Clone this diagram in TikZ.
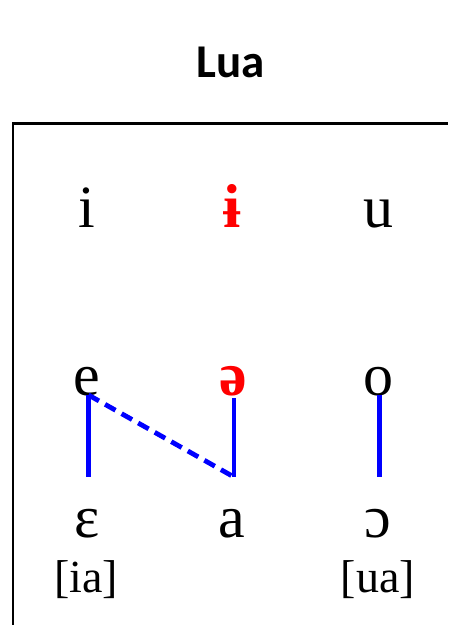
\documentclass[tikz,border=0pt]{standalone}
\usepackage{fontspec}
\setmainfont{Liberation Serif}
\newfontfamily\titlefont{Carlito}
\usetikzlibrary{positioning}
\definecolor{cblue}{RGB}{0,0,255}
\definecolor{cred}{RGB}{255,0,0}
\tikzset{
  every picture/.style={x=1pt, y=-1pt},
  vowel/.style={anchor=base, inner sep=0pt, font=\fontsize{60}{60}\selectfont},
  hivowel/.style={vowel, text=cred, font=\fontsize{62}{62}\selectfont\bfseries},
  gloss/.style={anchor=base, inner sep=0pt, font=\fontsize{46}{46}\selectfont},
  title/.style={anchor=base, inner sep=0pt, font=\titlefont\bfseries\fontsize{47}{47}\selectfont},
  link/.style={draw=cblue, line width=4.8pt},
  dashlink/.style={link, dash pattern=on 12pt off 7pt},
}

\begin{document}
\begin{tikzpicture}
  \useasboundingbox (0,0) rectangle (448,625);
  \node[title] (ttl) at (231,77) {Lua};
  \draw[line width=2.5pt] (13,625) -- (13,123.5) -- (448,123.5);
  % vowel chart
  \node[vowel] (i) at (87,227) {i};
  \node[hivowel] (ibar) at (232,227) {ɨ};
  \node[vowel] (u) at (378,227) {u};
  \node[vowel] (e) at (87,395) {e};
  \node[hivowel] (schwa) at (233,395) {ə};
  \node[vowel] (o) at (378,395) {o};
  \node[vowel] (eps) at (87,537) {ɛ};
  \node[vowel] (a) at (232,537) {a};
  \node[vowel] (oo) at (378,537) {ɔ};
  \node[gloss] (ia) at (86,592) {[ia]};
  \node[gloss] (ua) at (378,592) {[ua]};
  \coordinate (low) at (0,477);
  % links
  \draw[link] ([xshift=1.5pt]e.base) -- ([xshift=1.5pt]e.base |- low);
  \draw[dashlink] ([xshift=1.5pt]e.base) -- ([xshift=1pt]schwa.base |- low);
  \draw[link] ([xshift=1pt,yshift=-3pt]schwa.base) -- ([xshift=1pt]schwa.base |- low);
  \draw[link] ([xshift=1.5pt]o.base) -- ([xshift=1.5pt]o.base |- low);
\end{tikzpicture}
\end{document}
